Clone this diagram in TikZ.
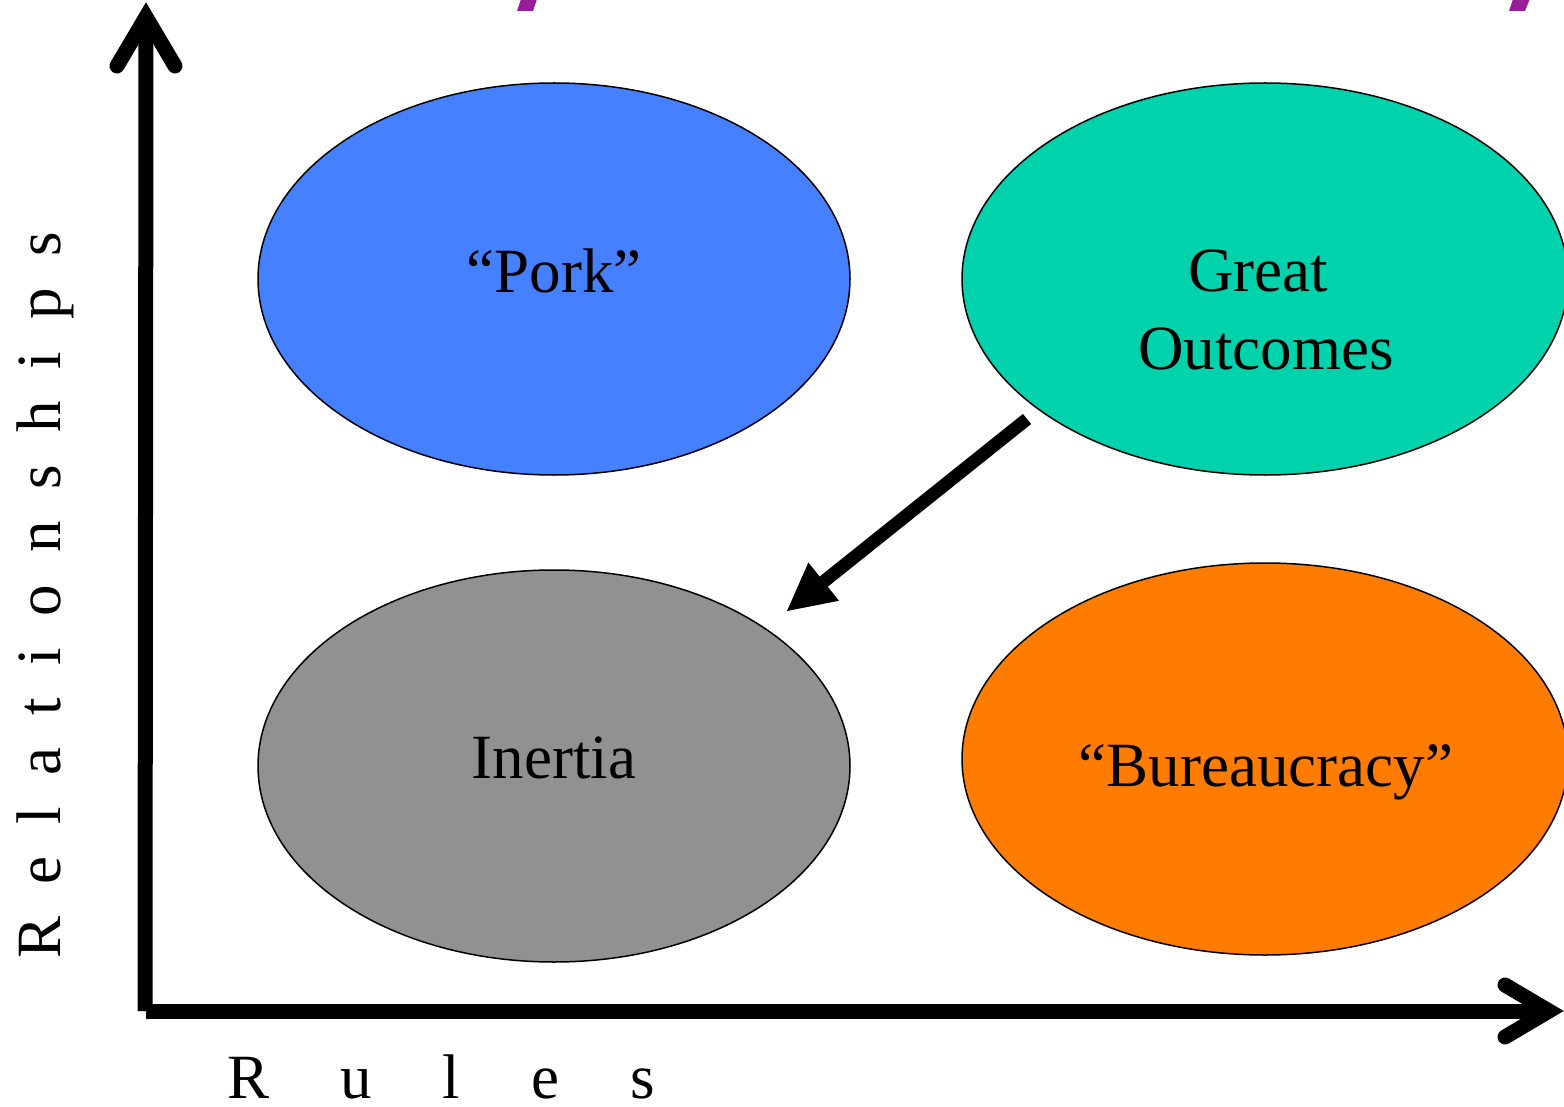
\documentclass[tikz,border=0pt]{standalone}
\usepackage{fontspec}
\setmainfont{Liberation Serif}
\usetikzlibrary{shapes.geometric,arrows.meta}
\definecolor{porkblue}{HTML}{4480FF}
\definecolor{greatteal}{HTML}{00D2AC}
\definecolor{inertgray}{HTML}{919191}
\definecolor{bureauorange}{HTML}{FF7C00}
\definecolor{markpurple}{HTML}{961E96}
\begin{document}
\begin{tikzpicture}[x=1pt,y=-1pt,
  blob/.style={ellipse,draw=black,line width=1.5pt,minimum height=392pt,inner sep=0pt},
  lbl/.style={font=\fontsize{63}{76}\selectfont,anchor=base,inner sep=0pt},
  axisline/.style={line width=15pt,line cap=butt},
  axishead/.style={line width=15pt,line cap=round,line join=miter},
  bigarrow/.style={line width=13pt,-{Triangle[length=47pt,width=49pt,line width=0pt]}}]
\useasboundingbox (0,0) rectangle (1564,1107);
\clip (0,0) rectangle (1564,1107);
% purple marks at top
\fill[markpurple] (522,-4) -- (538,-4) -- (533,11) -- (517,11) -- cycle;
\fill[markpurple] (1514,-4) -- (1531,-4) -- (1525,11) -- (1509,11) -- cycle;
% ellipses
\node[blob,fill=porkblue,minimum width=592pt] (pork) at (554,279) {};
\node[blob,fill=greatteal,minimum width=606pt] (great) at (1265,279) {};
\node[blob,fill=inertgray,minimum width=592pt] (inertia) at (554,766) {};
\node[blob,fill=bureauorange,minimum width=606pt] (bureau) at (1265,759) {};
% labels
\node[lbl] (porkt) at (554,293) {“Pork”};
\node[lbl] (greatt) at (1258,292) {Great};
\node[lbl] (outt) at (1266,370) {Outcomes};
\node[lbl] (inertt) at (554,778) {Inertia};
\node[lbl] (bureaut) at (1266,786) {“Bureaucracy”};
% axes
\coordinate (o) at (145,1011);
\coordinate (oh) at (146,1011);
\coordinate (ytip) at (146,17);
\coordinate (ya) at (117,66);
\coordinate (yb) at (175,66);
\coordinate (xtip) at (1549,1011);
\coordinate (xa) at (1505,985);
\coordinate (xb) at (1505,1037);
\draw[axisline] (o) -- (ytip);
\draw[axisline] (oh) -- (xtip);
\draw[axishead] (ya) -- (ytip) -- (yb);
\draw[axishead] (xa) -- (xtip) -- (xb);
% axis labels
\node[font=\fontsize{63}{76}\selectfont,inner sep=0pt,rotate=90,anchor=base west] (rel) at (60,959)
  {R\kern32pt e\kern32pt l\kern32pt a\kern32pt t\kern32pt i\kern32pt o\kern32pt n\kern32pt s\kern32pt h\kern32pt i\kern32pt p\kern32pt s};
\node[font=\fontsize{63}{76}\selectfont,inner sep=0pt,anchor=base west] (rules) at (227,1098)
  {R\kern71pt u\kern71pt l\kern71pt e\kern71pt s};
% diagonal arrow
\coordinate (ga) at (1027,419);
\coordinate (gb) at (787,611);
\draw[bigarrow] (ga) -- (gb);
\end{tikzpicture}
\end{document}
